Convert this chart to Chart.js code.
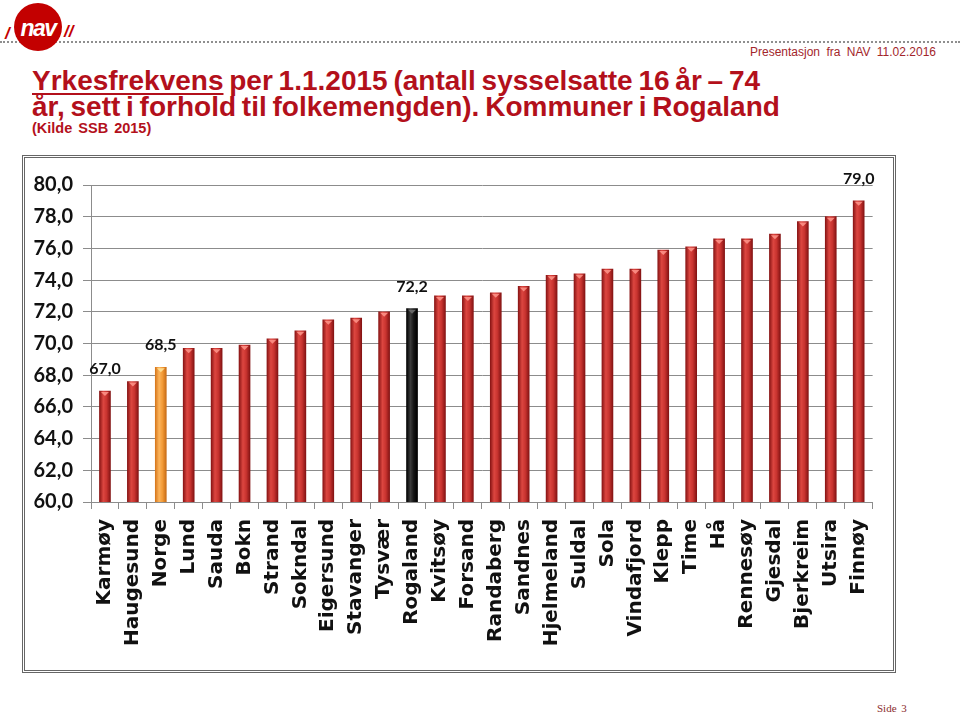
<!DOCTYPE html>
<html lang="no">
<head>
<meta charset="utf-8">
<title>Yrkesfrekvens per 1.1.2015 – kommuner i Rogaland</title>
<script src="https://cdn.jsdelivr.net/npm/chart.js@4.4.1/dist/chart.umd.min.js"></script>
<style>
  html, body { margin: 0; padding: 0; background: #fff; }
  body { position: relative; width: 960px; height: 717px; overflow: hidden; font-family: 'Liberation Sans', Arial, sans-serif; }

  .dots { position: absolute; left: 0; top: 41px; width: 960px; border-top: 2px dotted #8f8f8f; }
  .logo { position: absolute; left: 14px; top: 3px; width: 48px; height: 48px; border-radius: 50%; background: #c30000; }
  .logo span { position: absolute; left: 0; right: 0; top: 12px; text-align: center; color: #fff;
               font: bold 23px 'Liberation Sans', Arial, sans-serif; letter-spacing: -1.5px; font-style: italic; }
  .slash { position: absolute; color: #c30000; font: italic bold 17px 'Liberation Sans', Arial, sans-serif; }

  .meta { position: absolute; left: 750px; top: 45px; font-size: 12px; line-height: 14px; color: #a3262b; word-spacing: 3px; }

  .title { position: absolute; left: 32px; color: #b3101b; font-weight: bold; white-space: nowrap; }
  .t1, .t2 { font-size: 28px; line-height: 27px; word-spacing: -2px; }
  .t1 { top: 67px; }
  .t2 { top: 93px; }
  .t1 u { text-decoration-thickness: 2px; text-underline-offset: 3px; }
  .t3 { top: 121px; font-size: 14.5px; line-height: 15px; word-spacing: 2px; }

  .frame { position: absolute; left: 22px; top: 155px; width: 868px; height: 512px;
           border: 3px double #666; background: #fff; }
  .frame canvas { position: absolute; left: 0; top: 0; }

  .side { position: absolute; left: 877px; top: 702px; font: 11px 'Liberation Serif', serif; color: #8b2d2d; word-spacing: 2px; }
</style>
</head>
<body>
  <div class="dots"></div>
  <div class="slash" style="left:5px; top:24px;">/</div>
  <div class="logo"><span>nav</span></div>
  <div class="slash" style="left:64px; top:22px;">//</div>
  <div class="meta">Presentasjon fra NAV 11.02.2016</div>

  <div class="title t1"><u>Yrkesfrekvens</u> per 1.1.2015 (antall sysselsatte 16 år – 74</div>
  <div class="title t2">år, sett i forhold til folkemengden). Kommuner i Rogaland</div>
  <div class="title t3">(Kilde SSB 2015)</div>

  <div class="frame"><canvas id="chart" width="868" height="512"></canvas></div>

  <div class="side">Side 3</div>

<script>
'use strict';

// ── Data ──────────────────────────────────────────────────────────────────────

const kommuner = [
  'Karmøy', 'Haugesund', 'Norge', 'Lund', 'Sauda', 'Bokn', 'Strand', 'Sokndal',
  'Eigersund', 'Stavanger', 'Tysvær', 'Rogaland', 'Kvitsøy', 'Forsand', 'Randaberg',
  'Sandnes', 'Hjelmeland', 'Suldal', 'Sola', 'Vindafjord', 'Klepp', 'Time', 'Hå',
  'Rennesøy', 'Gjesdal', 'Bjerkreim', 'Utsira', 'Finnøy'
];

const yrkesfrekvens = [
  67.0, 67.6, 68.5, 69.7, 69.7, 69.9, 70.3, 70.8,
  71.5, 71.6, 72.0, 72.2, 73.0, 73.0, 73.2,
  73.6, 74.3, 74.4, 74.7, 74.7, 75.9, 76.1, 76.6,
  76.6, 76.9, 77.7, 78.0, 79.0
];

const yTickLabels = ['60,0', '62,0', '64,0', '66,0', '68,0', '70,0', '72,0', '74,0', '76,0', '78,0', '80,0'];

// bars that get a value label above them
const labelledBars = ['Karmøy', 'Norge', 'Rogaland', 'Finnøy'];

// ── Bar colours ───────────────────────────────────────────────────────────────

const BAR_W = 11;

const palettes = {
  red:    ['#8a1515', '#dc4640', '#c8332f', '#841313'],
  orange: ['#d7781c', '#fcb45c', '#f39b37', '#c86c16'],
  black:  ['#000000', '#3c3c3c', '#161616', '#000000']
};

function paletteFor(name) {
  if (name === 'Norge') return palettes.orange;
  if (name === 'Rogaland') return palettes.black;
  return palettes.red;
}

function barFill(ctx) {
  const chart = ctx.chart;
  const p = paletteFor(kommuner[ctx.dataIndex]);
  const xScale = chart.scales.x;
  if (!chart.chartArea || !xScale) return p[2];
  const x = xScale.getPixelForValue(ctx.dataIndex);
  const g = chart.ctx.createLinearGradient(x - BAR_W / 2, 0, x + BAR_W / 2, 0);
  g.addColorStop(0, p[0]);
  g.addColorStop(0.35, p[1]);
  g.addColorStop(0.65, p[2]);
  g.addColorStop(1, p[3]);
  return g;
}

// ── Plugins ───────────────────────────────────────────────────────────────────

// small bevelled cap on top of each bar
const barCaps = {
  id: 'barCaps',
  afterDatasetsDraw(chart) {
    const { ctx } = chart;
    chart.getDatasetMeta(0).data.forEach((bar, i) => {
      const name = kommuner[i];
      ctx.save();
      ctx.fillStyle = name === 'Rogaland' ? 'rgba(110,110,110,0.9)'
        : name === 'Norge' ? 'rgba(255,225,150,0.9)' : 'rgba(255,150,140,0.85)';
      ctx.beginPath();
      ctx.moveTo(bar.x - 4, bar.y + 1);
      ctx.lineTo(bar.x + 4, bar.y + 1);
      ctx.lineTo(bar.x, bar.y + 5);
      ctx.closePath();
      ctx.fill();
      ctx.restore();
    });
  }
};

const valueLabels = {
  id: 'valueLabels',
  afterDatasetsDraw(chart) {
    const { ctx } = chart;
    const meta = chart.getDatasetMeta(0);
    ctx.save();
    ctx.font = 'bold 16px Lato, "Open Sans", sans-serif';
    ctx.fillStyle = '#111';
    ctx.textAlign = 'center';
    ctx.textBaseline = 'alphabetic';
    labelledBars.forEach(name => {
      const i = kommuner.indexOf(name);
      const bar = meta.data[i];
      ctx.fillText(yrkesfrekvens[i].toFixed(1).replace('.', ','), bar.x, bar.y - 17);
    });
    ctx.restore();
  }
};

// ── Chart ─────────────────────────────────────────────────────────────────────

const axisGrey = '#8c8c8c';

new Chart(document.getElementById('chart'), {
  type: 'bar',
  data: {
    labels: kommuner,
    datasets: [{
      data: yrkesfrekvens,
      backgroundColor: barFill,
      barThickness: BAR_W,
      borderWidth: 0
    }]
  },
  options: {
    responsive: false,
    animation: false,
    devicePixelRatio: 1,
    layout: { padding: { top: 27, right: 18, left: 0, bottom: 0 } },
    plugins: {
      legend: { display: false },
      tooltip: { enabled: false }
    },
    scales: {
      x: {
        afterFit: s => { s.height = 168; },
        grid: { offset: true, drawOnChartArea: false, tickLength: 7, color: axisGrey },
        border: { color: axisGrey },
        ticks: {
          autoSkip: false,
          minRotation: 90,
          maxRotation: 90,
          padding: 10,
          color: '#111',
          font: { family: 'DejaVu Sans', weight: 'bold', size: 20 }
        }
      },
      y: {
        min: 60,
        max: 80,
        afterFit: s => { s.width = 66; },
        grid: { color: axisGrey, tickLength: 8 },
        border: { color: axisGrey },
        ticks: {
          stepSize: 2,
          padding: 10,
          color: '#111',
          font: { family: 'Lato', weight: 'bold', size: 20 },
          callback: (v, i) => yTickLabels[i]
        }
      }
    }
  },
  plugins: [barCaps, valueLabels]
});
</script>
</body>
</html>
